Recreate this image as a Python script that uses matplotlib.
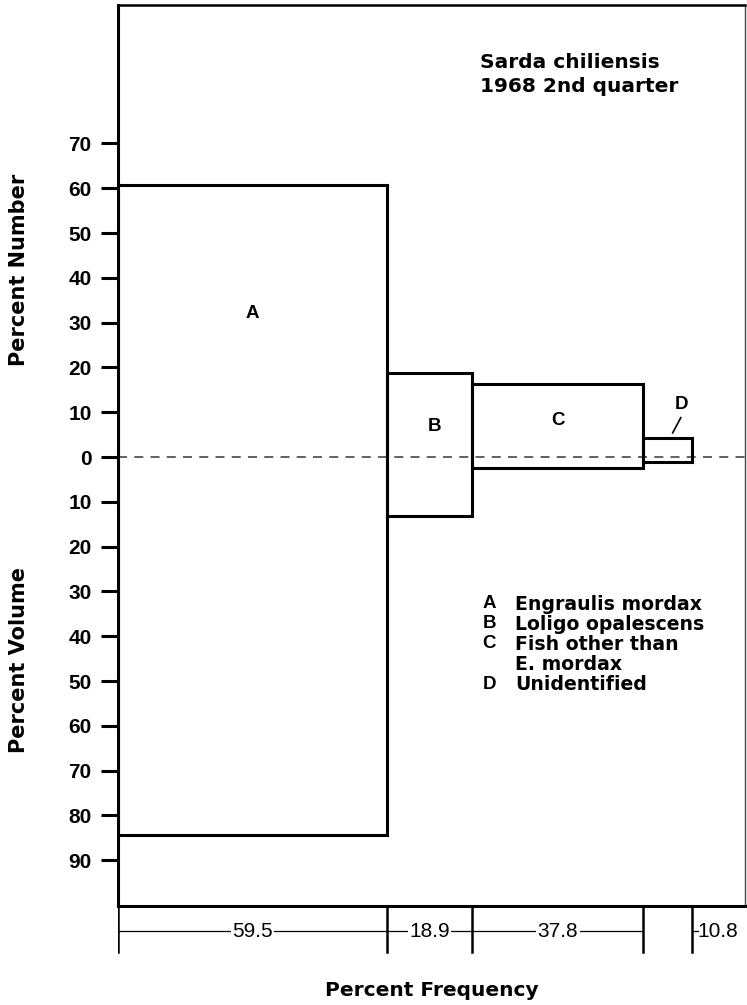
import numpy as np
import matplotlib
matplotlib.use("Agg")
import matplotlib.pyplot as plt

# Data
categories = ["A", "B", "C", "D"]
percent_frequency = [59.5, 18.9, 37.8, 10.8]
percent_number = [60.7, 18.7, 16.3, 4.2]
percent_volume = [84.3, 13.1, 2.4, 1.1]
freq_labels = ["59.5", "18.9", "37.8", "10.8"]
legend_keys = ["A", "B", "C", "", "D"]
legend_names = ["Engraulis mordax", "Loligo opalescens", "Fish other than", "E. mordax", "Unidentified"]
yticks_number = [10, 20, 30, 40, 50, 60, 70]
yticks_volume = [10, 20, 30, 40, 50, 60, 70, 80, 90]

HELV = ['Liberation Sans', 'DejaVu Sans']
WIDE = ['DejaVu Sans']
plt.rcParams['font.family'] = HELV

W, H = 747, 1005
fig = plt.figure(figsize=(W / 100, H / 100), dpi=100)

def rect(l, t, r, b):
    return [l / W, 1 - b / H, (r - l) / W, (b - t) / H]

def ftext(x, y, s, **kw):
    return fig.text(x / W, 1 - y / H, s, **kw)

ax = fig.add_axes(rect(118, 5, 745, 906))
xmax = 138.7
ax.set_xlim(0, xmax)
ax.set_ylim(-100.2, 100.9)

lefts = np.concatenate([[0], np.cumsum(percent_frequency)[:-1]])
bottoms = -np.array(percent_volume)
heights = np.array(percent_number) + np.array(percent_volume)
ax.bar(lefts, heights, width=percent_frequency, bottom=bottoms, align='edge',
       fill=False, edgecolor='black', linewidth=2.2, zorder=3)

ax.axhline(0, color='#555555', linestyle=(0, (5, 4)), linewidth=1.3, zorder=2)

# Category labels
centers = lefts + np.array(percent_frequency) / 2
lab_kw = dict(ha='center', va='center', fontsize=13.5, fontweight='bold', family=HELV)
ax.text(centers[0], 32, categories[0], **lab_kw)
ax.text(centers[1] + 1.0, 6.9, categories[1], **lab_kw)
ax.text(centers[2], 8.2, categories[2], **lab_kw)
ax.text(centers[3] + 3.0, 11.8, categories[3], **lab_kw)
ax.plot([centers[3] + 2.9, centers[3] + 1.1], [8.8, 5.4], color='black', lw=1.2)

# Title
ftext(480, 62, "Sarda chiliensis", ha='left', va='center', fontsize=14.5,
      fontweight='bold', family=WIDE)
ftext(480, 87, "1968 2nd quarter", ha='left', va='center', fontsize=14.5,
      fontweight='bold', family=WIDE)

# Legend text
for i, (k, name) in enumerate(zip(legend_keys, legend_names)):
    y = 604 + i * 20
    ftext(489, y, k, ha='center', va='center', fontsize=13.5, fontweight='bold', family=HELV)
    ftext(515, y, name, ha='left', va='center', fontsize=13.6, fontweight='bold', family=WIDE)

# Y ticks
ticks = [0] + yticks_number + [-v for v in yticks_volume]
ax.set_yticks(ticks)
ax.set_yticklabels([str(abs(t)) for t in ticks], fontsize=15, fontweight='bold')
ax.tick_params(axis='y', direction='out', length=12, width=2.2, pad=7)
ax.set_xticks([])
for s in ['left', 'bottom']:
    ax.spines[s].set_linewidth(2.2)
ax.spines['top'].set_linewidth(1.8)
ax.spines['right'].set_linewidth(1.0)
ax.spines['right'].set_color('#444444')

ftext(19, 270, "Percent Number", rotation=90, ha='center', va='center',
      fontsize=15, fontweight='bold', family=WIDE)
ftext(19, 660, "Percent Volume", rotation=90, ha='center', va='center',
      fontsize=15, fontweight='bold', family=WIDE)

# Lower frequency strip
ax2 = fig.add_axes(rect(118, 906, 745, 960))
ax2.set_xlim(0, xmax)
ax2.set_ylim(0, 1)
ax2.axis('off')
edges = np.concatenate([[0], np.cumsum(percent_frequency)])
for e in edges:
    ax2.plot([e, e], [1, 0.14], color='black', lw=1.8)
ym = 0.53
for i in range(3):
    ax2.plot([edges[i], edges[i + 1]], [ym, ym], color='black', lw=0.9)
    ax2.text((edges[i] + edges[i + 1]) / 2, ym, freq_labels[i], ha='center', va='center',
             fontsize=15, fontweight='normal',
             bbox=dict(facecolor='white', edgecolor='none', pad=1.0))
ax2.plot([edges[-1], edges[-1] + 1.2], [ym, ym], color='black', lw=0.9)
ax2.text(edges[-1] + 1.2, ym, freq_labels[3], ha='left', va='center', fontsize=15,
         fontweight='normal')

ftext(432, 990, "Percent Frequency", ha='center', va='center',
      fontsize=14.5, fontweight='bold', family=WIDE)

fig.savefig("out.png", dpi=100)
